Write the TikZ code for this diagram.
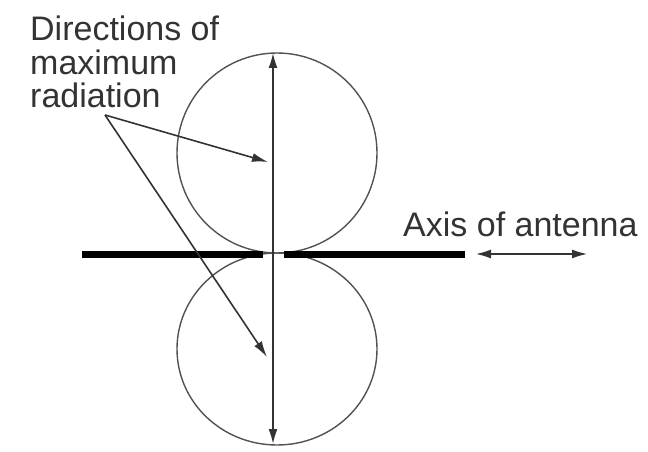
\documentclass[tikz,border=0pt]{standalone}
\usepackage{fontspec}
\setmainfont{Liberation Sans}
\usetikzlibrary{arrows.meta,shapes.geometric}
\definecolor{ink}{HTML}{333333}
\tikzset{
  lobe/.style={draw=ink!85, line width=1.4pt, inner sep=0pt},
  ray/.style={draw=ink, line width=1.7pt, {Latex[length=15pt,width=9pt]}-{Latex[length=15pt,width=9pt]}},
  pointer/.style={draw=ink, line width=1.6pt, -{Latex[length=16pt,width=9pt]}},
  bar/.style={draw=black, line width=7pt},
  lbl/.style={text=ink, inner sep=0pt, font=\fontsize{34}{33.5}\selectfont, align=left}
}
\begin{document}
\begin{tikzpicture}[x=1pt,y=-1pt]
\useasboundingbox (0,0) rectangle (648,452);
% lobes
\node[lobe, circle, minimum size=200pt] (toplobe) at (277,153) {};
\node[lobe, ellipse, minimum width=200pt, minimum height=192pt] (botlobe) at (277,349) {};
% vertical direction line
\coordinate (vt) at (273,53);
\coordinate (vb) at (273,444);
\draw[ray] (vt) -- (vb);
% antenna bar
\coordinate (al1) at (82,254.5);
\coordinate (al2) at (263,254.5);
\coordinate (ar1) at (284,254.5);
\coordinate (ar2) at (465,254.5);
\draw[bar] (al1) -- (al2);
\draw[bar] (ar1) -- (ar2);
% axis arrow
\coordinate (ax1) at (476,254);
\coordinate (ax2) at (587,254);
\draw[ray, line width=1.3pt] (ax1) -- (ax2);
% labels
\node[lbl, anchor=north west] (dirs) at (30,16) {Directions of\\maximum\\radiation};
\node[lbl, anchor=north west] (axis) at (403,212) {Axis of antenna};
% pointers
\coordinate (ps) at (105,115);
\coordinate (p1) at (268,162);
\coordinate (p2) at (267,357);
\draw[pointer] (ps) -- (p1);
\draw[pointer] (ps) -- (p2);
\end{tikzpicture}
\end{document}
